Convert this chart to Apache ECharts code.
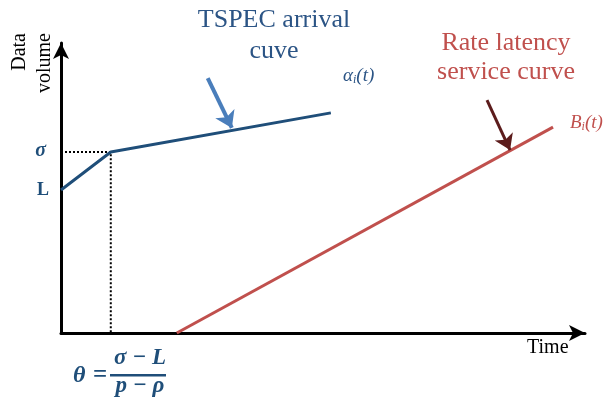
<!DOCTYPE html>
<html>
<head>
<meta charset="utf-8">
<script src="https://cdn.jsdelivr.net/npm/echarts@6/dist/echarts.min.js"></script>
<style>
  html, body { margin: 0; padding: 0; background: #fff; }
  #chart { width: 606px; height: 400px; }
</style>
</head>
<body>
<div id="chart"></div>
<script>
// Network-calculus sketch: TSPEC arrival curve against a rate-latency service curve.
// Both axes run on an abstract 0..100 scale.
const arrivalCurve = [[0, 49.3], [9.5, 62.4], [51.5, 75.9]];   // L -> sigma kink -> slope rho
const serviceCurve = [[22.1, 0], [93.9, 71.0]];                  // latency then rate
const thetaGuide = [[0, 62.4], [9.5, 62.4], [9.5, 0]];           // dotted guide at the kink
const yTickValues = [49.3, 62.4];
const yTickLabels = ['L', 'σ'];
const arrivalPointer = [[28.0, 87.9], [32.6, 70.7]];             // callout arrow to the arrival curve
const servicePointer = [[81.3, 80.3], [85.7, 63.1]];             // callout arrow to the service curve

const SERIF = '"Liberation Serif", "Times New Roman", serif';
const BLUE = '#1f4e79';
const BLUE_TEXT = '#2b5485';
const RED = '#c0504d';

const chart = echarts.init(document.getElementById('chart'), null, { renderer: 'canvas' });

// the arrow symbol's tip sits on the axis end; its body trails back along the line
const axisLine = {
  show: true,
  symbol: ['none', 'arrow'],
  symbolSize: [12, 16],
  symbolOffset: [0, 0],
  lineStyle: { color: '#000', width: 3 }
};

chart.setOption({
  animation: false,
  backgroundColor: '#fff',
  grid: { left: 61, right: 21, top: 43, bottom: 67, containLabel: false, outerBoundsMode: 'none' },
  xAxis: {
    type: 'value', min: 0, max: 100,
    axisLine: axisLine,
    axisTick: { show: false },
    axisLabel: { show: false },
    splitLine: { show: false }
  },
  yAxis: {
    type: 'value', min: 0, max: 100,
    axisLine: axisLine,
    axisTick: { show: false },
    splitLine: { show: false },
    axisLabel: {
      show: true,
      customValues: yTickValues,
      margin: 12,
      formatter: function (v) {
        const i = yTickValues.indexOf(v);
        const t = i >= 0 ? yTickLabels[i] : '';
        return t === 'σ' ? '{s|σ}' : '{l|' + t + '}';
      },
      rich: {
        s: { fontFamily: SERIF, fontSize: 20, fontStyle: 'italic', fontWeight: 'bold', color: BLUE, padding: [0, 3, 3, 0] },
        l: { fontFamily: SERIF, fontSize: 18, fontWeight: 'bold', color: BLUE }
      }
    }
  },
  series: [
    {
      name: 'guide', type: 'line', data: thetaGuide, symbol: 'none', silent: true,
      lineStyle: { color: '#000', width: 2, type: [2, 2] }, z: 1
    },
    {
      name: 'arrival', type: 'line', data: arrivalCurve, symbol: 'none',
      lineStyle: { color: BLUE, width: 3 }, z: 3
    },
    {
      name: 'service', type: 'line', data: serviceCurve, symbol: 'none',
      lineStyle: { color: RED, width: 3 }, z: 3
    },
    {
      name: 'arrival pointer', type: 'lines', coordinateSystem: 'cartesian2d',
      symbol: ['none', 'arrow'], symbolSize: 16,
      lineStyle: { color: '#4a7ebb', width: 4, opacity: 1, curveness: 0 },
      data: [{ coords: arrivalPointer }], z: 4
    },
    {
      name: 'service pointer', type: 'lines', coordinateSystem: 'cartesian2d',
      symbol: ['none', 'arrow'], symbolSize: 15,
      lineStyle: { color: '#5c1c1c', width: 3, opacity: 1, curveness: 0 },
      data: [{ coords: servicePointer }], z: 4
    }
  ],
  graphic: [
    { type: 'text', x: 20, y: 33, rotation: Math.PI / 2,
      style: { text: 'Data', fontFamily: SERIF, fontSize: 20, fill: '#000', align: 'right', verticalAlign: 'middle' } },
    { type: 'text', x: 45, y: 33, rotation: Math.PI / 2,
      style: { text: 'volume', fontFamily: SERIF, fontSize: 20, fill: '#000', align: 'right', verticalAlign: 'middle' } },
    { type: 'text', x: 527, y: 348,
      style: { text: 'Time', fontFamily: SERIF, fontSize: 20, fill: '#000', align: 'left', verticalAlign: 'middle' } },
    { type: 'text', x: 274, y: 20,
      style: { text: 'TSPEC arrival', fontFamily: SERIF, fontSize: 26, fill: BLUE_TEXT, align: 'center', verticalAlign: 'middle' } },
    { type: 'text', x: 274, y: 51,
      style: { text: 'cuve', fontFamily: SERIF, fontSize: 26, fill: BLUE_TEXT, align: 'center', verticalAlign: 'middle' } },
    { type: 'text', x: 506, y: 43,
      style: { text: 'Rate latency', fontFamily: SERIF, fontSize: 26, fill: RED, align: 'center', verticalAlign: 'middle' } },
    { type: 'text', x: 506, y: 72,
      style: { text: 'service curve', fontFamily: SERIF, fontSize: 26, fill: RED, align: 'center', verticalAlign: 'middle' } },
    { type: 'text', x: 343, y: 76,
      style: {
        text: '{a|α}{b|i}{a|(t)}', align: 'left', verticalAlign: 'middle',
        rich: {
          a: { fontFamily: SERIF, fontSize: 19, fontStyle: 'italic', fill: BLUE_TEXT },
          b: { fontFamily: SERIF, fontSize: 12, fontStyle: 'italic', fill: BLUE_TEXT, padding: [8, 0, 0, 0] }
        }
      } },
    { type: 'text', x: 570, y: 123,
      style: {
        text: '{a|B}{b|i}{a|(t)}', align: 'left', verticalAlign: 'middle',
        rich: {
          a: { fontFamily: SERIF, fontSize: 19, fontStyle: 'italic', fill: RED },
          b: { fontFamily: SERIF, fontSize: 12, fontStyle: 'italic', fill: RED, padding: [8, 0, 0, 0] }
        }
      } },
    // theta = (sigma - L) / (p - rho)
    { type: 'text', x: 73, y: 376,
      style: { text: 'θ', fontFamily: SERIF, fontSize: 24, fontStyle: 'italic', fontWeight: 'bold', fill: BLUE, align: 'left', verticalAlign: 'middle' } },
    { type: 'text', x: 100, y: 376,
      style: { text: '=', fontFamily: SERIF, fontSize: 25, fontWeight: 'bold', fill: BLUE, align: 'center', verticalAlign: 'middle' } },
    { type: 'text', x: 140, y: 358,
      style: { text: 'σ − L', fontFamily: SERIF, fontSize: 23, fontStyle: 'italic', fontWeight: 'bold', fill: BLUE, align: 'center', verticalAlign: 'middle' } },
    { type: 'rect', shape: { x: 110, y: 374, width: 56, height: 2.5 }, style: { fill: BLUE } },
    { type: 'text', x: 140, y: 386,
      style: { text: 'p − ρ', fontFamily: SERIF, fontSize: 23, fontStyle: 'italic', fontWeight: 'bold', fill: BLUE, align: 'center', verticalAlign: 'middle' } }
  ]
});
</script>
</body>
</html>
